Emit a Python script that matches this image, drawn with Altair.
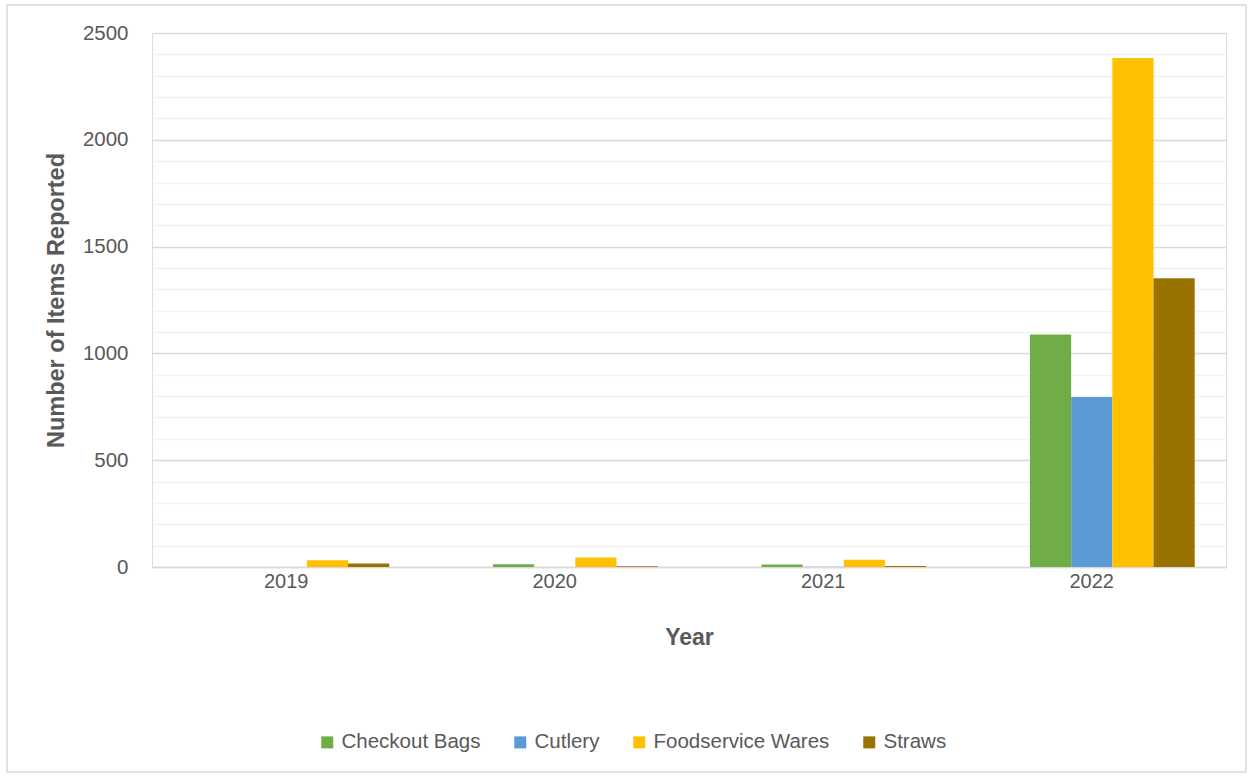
import altair as alt
import pandas as pd

years = ["2019", "2020", "2021", "2022"]
series = ["Checkout Bags", "Cutlery", "Foodservice Wares", "Straws"]
checkout_bags = [0, 13, 12, 1089]
cutlery = [0, 0, 1, 796]
foodservice_wares = [32, 45, 34, 2383]
straws = [16, 4, 5, 1352]
colors = ["#70AD47", "#5B9BD5", "#FFC000", "#997300"]
y_ticks = list(range(0, 2600, 100))
# the source chart reserves an empty (blank) first slot in each year group
offset_slots = [" "] + series

rows = []
for name, vals in zip(series, [checkout_bags, cutlery, foodservice_wares, straws]):
    for yr, v in zip(years, vals):
        rows.append({"Year": yr, "Series": name, "Value": v})
df = pd.DataFrame(rows)

FONT = "Liberation Sans"
TXT = "#595959"

W, H = 1074, 534

bars = alt.Chart(df).mark_bar().encode(
    x=alt.X("Year:N", sort=years,
            scale=alt.Scale(paddingInner=0.233, paddingOuter=0.1165),
            axis=alt.Axis(title="Year", labelAngle=0, labelFontSize=20, labelColor=TXT,
                          labelPadding=4, ticks=False, domainColor="#d9d9d9", domainWidth=1.5,
                          titleFontSize=23, titleFontWeight="bold", titleColor=TXT,
                          titleY=70, titleBaseline="middle", labelFont=FONT, titleFont=FONT)),
    xOffset=alt.XOffset("Series:N", scale=alt.Scale(domain=offset_slots, paddingInner=0, paddingOuter=0)),
    y=alt.Y("Value:Q", scale=alt.Scale(domain=[0, 2500], nice=False),
            axis=alt.Axis(title="Number of Items Reported", values=y_ticks, format="d",
                          labelExpr="datum.value % 500 === 0 ? datum.label : ''",
                          gridColor={"condition": {"test": "datum.value % 500 === 0", "value": "#d9d9d9"},
                                     "value": "#f2f2f2"},
                          gridWidth=1.3, domain=False, ticks=False, labelPadding=24,
                          labelFontSize=20.5, labelColor=TXT, labelFont=FONT,
                          titleFontSize=23.5, titleFontWeight="bold", titleColor=TXT, titleFont=FONT,
                          titleX=-96, titleY=H / 2, titleAngle=-90,
                          titleAlign="center", titleBaseline="middle")),
    color=alt.Color("Series:N", sort=series, scale=alt.Scale(domain=series, range=colors),
                    legend=alt.Legend(title=None, orient="none", direction="horizontal",
                                      legendX=165, legendY=699, padding=0, symbolType="square",
                                      symbolSize=144, symbolStrokeWidth=0, labelFontSize=20.5,
                                      labelColor=TXT, labelFont=FONT, labelOffset=4,
                                      labelLimit=0, columnPadding=29)),
)

border = alt.Chart(alt.Data(values=[{"a": 1}])).mark_rect(
    fill=None, stroke="#d9d9d9", strokeWidth=1.5
).encode(
    x=alt.value(-145), x2=alt.value(1094), y=alt.value(-28), y2=alt.value(739)
)

chart = alt.layer(border, bars).properties(
    width=W, height=H,
    autosize=alt.AutoSizeParams(type="none"),
    padding={"left": 152, "top": 33, "right": 27, "bottom": 211},
).configure_view(stroke=None).configure(background="white")

chart.save("out.html", embed_options={"renderer": "svg", "actions": False})
